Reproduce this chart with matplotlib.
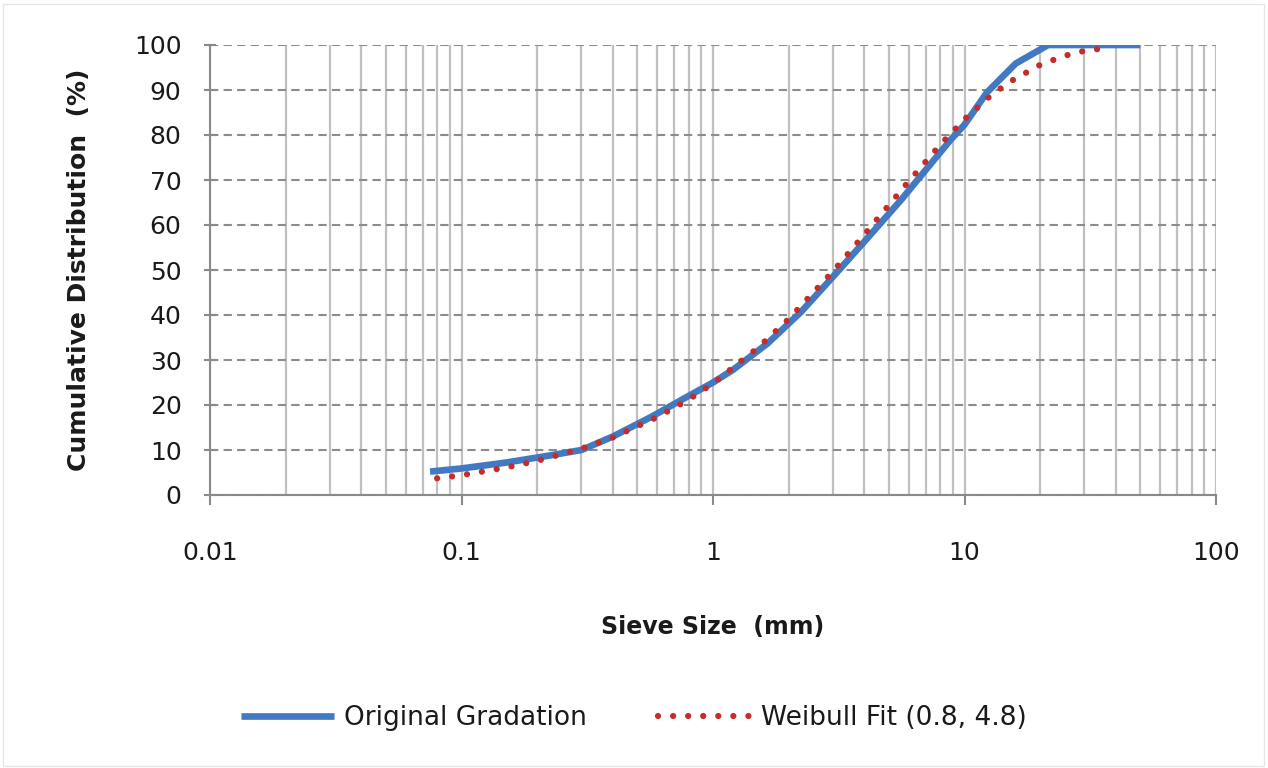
import numpy as np
import matplotlib
matplotlib.use("Agg")
import matplotlib.pyplot as plt
from matplotlib.ticker import LogLocator, FixedLocator, NullFormatter
from matplotlib.lines import Line2D
from matplotlib.patches import Rectangle

# -----------------------------
# Data
# -----------------------------
sieve_orig = [0.075, 0.1, 0.15, 0.22, 0.3, 0.4, 0.57, 0.77, 1.0, 1.2, 1.65, 2.24,
              3.0, 4.1, 5.6, 6.5, 8.8, 10, 12.3, 16, 21.5, 50]
pass_orig = [5.2, 5.9, 7.2, 8.7, 10.0, 13.0, 17.4, 21.5, 25.0, 27.8, 33.7, 40.7,
             48.5, 57.0, 65.6, 70.0, 78.9, 82.3, 89.5, 95.9, 100, 100]

sieve_fit = [0.08, 0.1, 0.15, 0.2, 0.3, 0.4, 0.6, 0.8, 1, 1.5, 2, 3, 4, 5, 6,
             8, 10, 12.5, 15, 20, 25, 30, 37.5]
pass_fit = [3.7, 4.4, 6.1, 7.6, 10.3, 12.8, 17.3, 21.2, 24.8, 32.6, 39.1, 49.7,
            57.9, 64.4, 69.7, 77.8, 83.5, 88.4, 91.7, 95.6, 97.6, 98.7, 99.4]

x_ticks = [0.01, 0.1, 1, 10, 100]
x_labels = ["0.01", "0.1", "1", "10", "100"]
y_ticks = list(range(0, 101, 10))

blue = "#4279C3"
red = "#C62D28"
txt = "#1A1A1A"
dots = (0, (0.01, 2.4))

fig = plt.figure(figsize=(12.68, 7.68), dpi=100)
ax = fig.add_axes([210 / 1268, 1 - 495 / 768, (1216 - 210) / 1268, (495 - 45) / 768])

# Grille
ax.set_xscale("log")
ax.set_xlim(0.01, 100)
ax.set_ylim(0, 100)
ax.xaxis.set_major_locator(FixedLocator(x_ticks))
ax.xaxis.set_minor_locator(LogLocator(base=10, subs=np.arange(2, 10)))
ax.xaxis.set_minor_formatter(NullFormatter())
ax.set_xticklabels(x_labels)
ax.set_yticks(y_ticks)

ax.grid(True, which="both", axis="x", color="#C0C0C0", linewidth=1.6, linestyle="-")
ax.grid(True, which="major", axis="y", color="#8C8C8C", linewidth=1.5, linestyle=(0, (4, 2.5)))
ax.set_axisbelow(True)

for side in ["top", "right"]:
    ax.spines[side].set_visible(False)
for side in ["left", "bottom"]:
    ax.spines[side].set_color("#8A8A8A")
    ax.spines[side].set_linewidth(1.5)

ax.tick_params(axis="y", direction="inout", length=9, width=1.5, color="#8A8A8A",
               pad=16, labelsize=18, labelcolor=txt)
ax.tick_params(axis="x", which="major", direction="out", length=7, width=1.5,
               color="#8A8A8A", pad=26, labelsize=18, labelcolor=txt)
ax.tick_params(axis="x", which="minor", length=0)

# Courbes
ax.plot(sieve_orig, pass_orig, color=blue, linewidth=4.8, solid_capstyle="butt",
        solid_joinstyle="round", label="Original Gradation", zorder=3)
ax.plot(sieve_fit, pass_fit, color=red, linewidth=4.5, linestyle=dots,
        dash_capstyle="round", label="Weibull Fit (0.8, 4.8)", zorder=4)

ax.set_ylabel("Cumulative Distribution  (%)", fontsize=18, fontweight="bold",
              color=txt, labelpad=31)
ax.set_xlabel("Sieve Size  (mm)", fontsize=17, fontweight="bold",
              color=txt, labelpad=36)

# Légende
handles = [
    Line2D([], [], color=blue, linewidth=4.8, solid_capstyle="butt"),
    Line2D([], [], color=red, linewidth=4.5, linestyle=dots, dash_capstyle="round"),
]
fig.legend(handles, ["Original Gradation", "Weibull Fit (0.8, 4.8)"],
           loc="center", bbox_to_anchor=(0.5, 1 - 718 / 768), ncol=2, frameon=False,
           fontsize=19, handlelength=3.5, handletextpad=0.4, columnspacing=2.7,
           labelcolor=txt)

# Cadre léger autour de l'image
fig.patches.append(Rectangle((0.002, 0.003), 0.995, 0.992, transform=fig.transFigure,
                             fill=False, edgecolor="#E6E6E6", linewidth=1))

plt.savefig("out.png", dpi=100)
plt.close()
